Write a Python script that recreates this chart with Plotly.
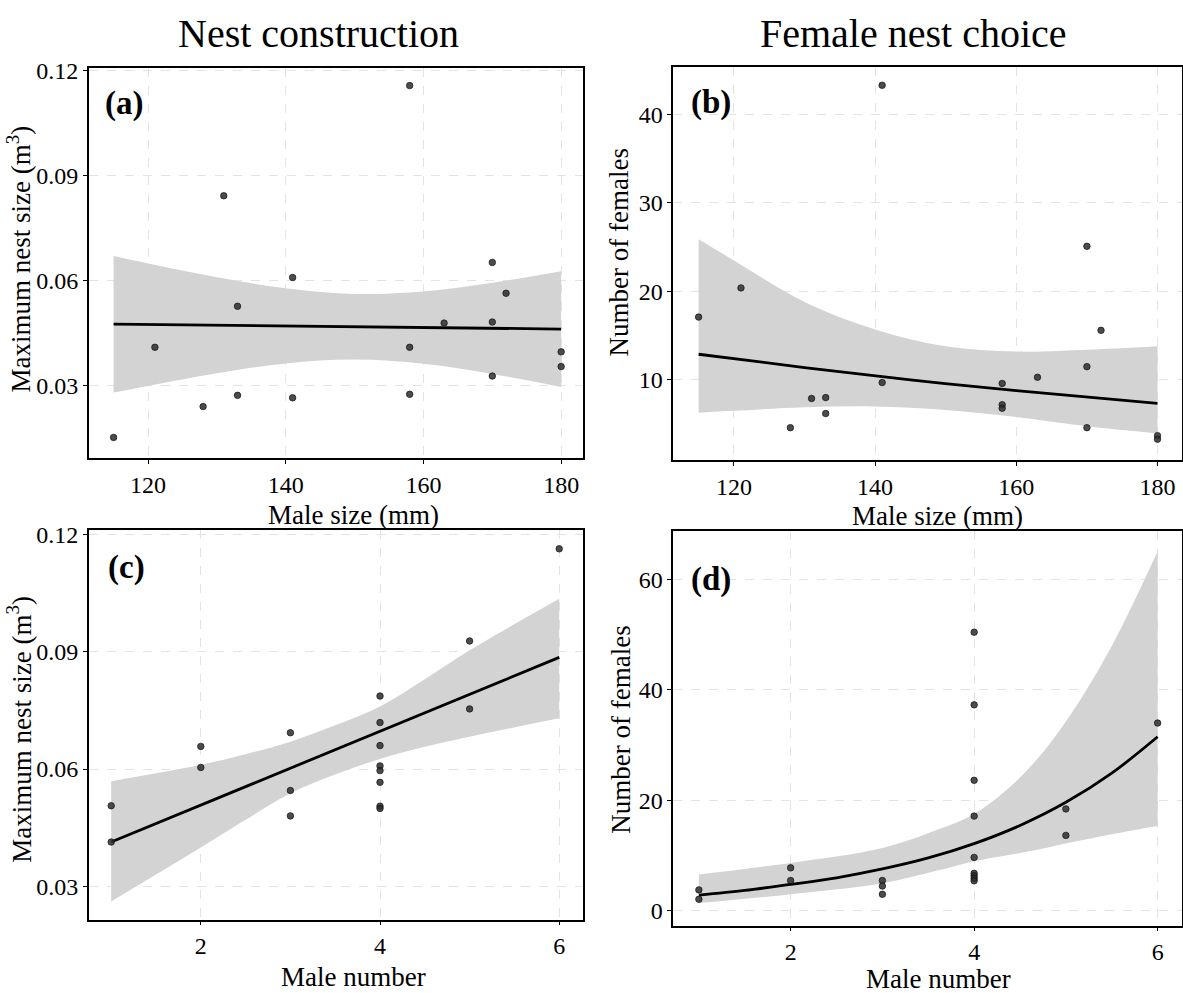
import plotly.graph_objects as go

W, H = 1183, 993

# ---------------- data ----------------
# Panel (a): male size vs maximum nest size
a_x = [115, 121, 128, 131, 133, 133, 141, 141, 158, 158, 158, 163, 170, 170, 170, 172, 180, 180]
a_y = [0.0153, 0.0410, 0.0241, 0.0842, 0.0527, 0.0273, 0.0609, 0.0266, 0.1156, 0.0410,
       0.0276, 0.0479, 0.0652, 0.0482, 0.0328, 0.0564, 0.0397, 0.0355]
a_fit_x = [115, 180]
a_fit_y = [0.0476, 0.0462]
a_band_x = [115, 120, 130, 140, 150, 160, 170, 180]
a_upper = [0.0670, 0.0649, 0.0610, 0.0578, 0.0562, 0.0569, 0.0594, 0.0627]
a_lower = [0.0281, 0.0300, 0.0336, 0.0364, 0.0375, 0.0363, 0.0334, 0.0297]

# Panel (b): male size vs number of females
b_x = [115, 121, 128, 131, 133, 133, 141, 141, 158, 158, 158, 163, 170, 170, 170, 172, 180, 180]
b_y = [17.1, 20.4, 4.6, 7.9, 8.0, 6.2, 43.3, 9.7, 9.6, 7.2, 6.8, 10.3, 25.1, 11.5, 4.6, 15.6, 3.7, 3.3]
b_fit_x = [115, 130, 145, 160, 180]
b_fit_y = [12.9, 11.4, 10.0, 8.8, 7.35]
b_band_x = [115, 120, 130, 140, 150, 160, 170, 180]
b_upper = [25.9, 23.5, 18.8, 15.7, 13.8, 13.2, 13.4, 13.8]
b_lower = [6.3, 6.5, 6.9, 7.0, 6.6, 5.8, 4.75, 3.95]

# Panel (c): male number vs maximum nest size
c_x = [1, 1, 2, 2, 3, 3, 3, 4, 4, 4, 4, 4, 4, 4, 4, 5, 5, 6]
c_y = [0.0506, 0.0413, 0.0658, 0.0604, 0.0693, 0.0545, 0.0480, 0.0787, 0.0719, 0.0660,
       0.0608, 0.0596, 0.0566, 0.0505, 0.0499, 0.0928, 0.0754, 0.1164]
c_fit_x = [1, 6]
c_fit_y = [0.0413, 0.0886]
c_band_x = [1, 2, 2.5, 3, 3.5, 4, 4.5, 5, 6]
c_upper = [0.0569, 0.0611, 0.0638, 0.0670, 0.0712, 0.0760, 0.0830, 0.0904, 0.1036]
c_lower = [0.0261, 0.0399, 0.0470, 0.0538, 0.0586, 0.0626, 0.0657, 0.0683, 0.0730]

# Panel (d): male number vs number of females
d_x = [1, 1, 2, 2, 3, 3, 3, 4, 4, 4, 4, 4, 4, 4, 4, 4, 5, 5, 6]
d_y = [3.7, 2.0, 7.7, 5.4, 5.4, 4.4, 2.9, 50.5, 37.3, 23.6, 17.1, 9.6, 6.7, 6.25, 5.8, 5.35,
       18.4, 13.6, 34.0]
d_fit_x = [1, 1.5, 2, 2.5, 3, 3.5, 4, 4.5, 5, 5.5, 6]
d_fit_y = [2.76, 3.6, 4.7, 5.9, 7.5, 9.5, 12.1, 15.4, 19.6, 24.9, 31.5]
d_band_x = [1, 2, 3, 3.6, 4, 4.33, 4.69, 5.05, 5.5, 6]
d_upper = [6.5, 8.6, 11.3, 14.6, 17.5, 21.5, 27.5, 35.5, 48.0, 65.2]
d_lower = [1.3, 2.9, 4.9, 7.2, 8.9, 9.9, 11.0, 12.3, 13.8, 15.3]

titles = ["Nest construction", "Female nest choice"]
panel_labels = ["(a)", "(b)", "(c)", "(d)"]
x_titles = ["Male size (mm)", "Male size (mm)", "Male number", "Male number"]
y_titles = ["Maximum nest size (m<sup>3</sup>)", "Number of females",
            "Maximum nest size (m<sup>3</sup>)", "Number of females"]
size_ticks = [120, 140, 160, 180]
number_ticks = [2, 4, 6]
nest_ticks = [0.03, 0.06, 0.09, 0.12]
nest_ticktext = ["0.03", "0.06", "0.09", "0.12"]
fem_ticks_b = [10, 20, 30, 40]
fem_ticks_d = [0, 20, 40, 60]

# ---------------- layout helpers ----------------
FONT = "Liberation Serif"
BAND = "#d3d3d3"
PT = "rgba(45,45,45,0.85)"


def px(x):
    return x / W


def py(y):
    return 1 - y / H


panels = [
    dict(data=(a_x, a_y, a_fit_x, a_fit_y, a_band_x, a_upper, a_lower),
         xd=[px(88.8), px(582.5)], yd=[py(452.7), py(58.3)],
         xr=[111.4, 183.1], yr=[0.0094, 0.1207], xt=size_ticks, yt=nest_ticks, ytt=nest_ticktext),
    dict(data=(b_x, b_y, b_fit_x, b_fit_y, b_band_x, b_upper, b_lower),
         xd=[px(673.2), px(1181.5)], yd=[py(455), py(57.3)],
         xr=[111.4, 183.4], yr=[0.9, 45.4], xt=size_ticks, yt=fem_ticks_b,
         ytt=[str(v) for v in fem_ticks_b]),
    dict(data=(c_x, c_y, c_fit_x, c_fit_y, c_band_x, c_upper, c_lower),
         xd=[px(88.8), px(582.5)], yd=[py(919), py(525)],
         xr=[0.75, 6.26], yr=[0.0214, 0.1213], xt=number_ticks, yt=nest_ticks, ytt=nest_ticktext),
    dict(data=(d_x, d_y, d_fit_x, d_fit_y, d_band_x, d_upper, d_lower),
         xd=[px(673.2), px(1181.5)], yd=[py(925), py(526.7)],
         xr=[0.72, 6.26], yr=[-2.8, 68.8], xt=number_ticks, yt=fem_ticks_d,
         ytt=[str(v) for v in fem_ticks_d]),
]

fig = go.Figure()
layout = {}
for i, p in enumerate(panels):
    n = "" if i == 0 else str(i + 1)
    xa, ya = "x" + n, "y" + n
    x, y, fx, fy, bx, bu, bl = p["data"]
    fig.add_trace(go.Scatter(x=bx, y=bl, mode="lines", line=dict(width=0, shape="spline", smoothing=1.0),
                             xaxis=xa, yaxis=ya, showlegend=False, hoverinfo="skip"))
    fig.add_trace(go.Scatter(x=bx, y=bu, mode="lines", line=dict(width=0, shape="spline", smoothing=1.0),
                             fill="tonexty", fillcolor=BAND,
                             xaxis=xa, yaxis=ya, showlegend=False, hoverinfo="skip"))
    fig.add_trace(go.Scatter(x=fx, y=fy, mode="lines",
                             line=dict(color="black", width=2.8, shape="spline", smoothing=1.0),
                             xaxis=xa, yaxis=ya, showlegend=False))
    fig.add_trace(go.Scatter(x=x, y=y, mode="markers",
                             marker=dict(size=6.5, color=PT, line=dict(width=0.8, color="rgba(20,20,20,0.9)")),
                             xaxis=xa, yaxis=ya, showlegend=False))
    common = dict(showline=True, mirror=True, linecolor="black", linewidth=1.5,
                  ticks="outside", ticklen=4, tickwidth=1.2, tickcolor="black",
                  showgrid=True, gridcolor="#e3e3e3", gridwidth=1, griddash="dash",
                  zeroline=False, tickfont=dict(family=FONT, size=24, color="black"))
    layout["xaxis" + n] = dict(domain=p["xd"], range=p["xr"], tickvals=p["xt"],
                               anchor=ya, **common)
    layout["yaxis" + n] = dict(domain=p["yd"], range=p["yr"], tickvals=p["yt"],
                               ticktext=p["ytt"], anchor=xa, **common)

ann = []
for t, (cx, cy) in zip(titles, [(318, 24), (913, 24)]):
    ann.append(dict(text=t, x=px(cx), y=py(cy), xref="paper", yref="paper", showarrow=False,
                    xanchor="center", yanchor="middle", font=dict(family=FONT, size=40, color="black")))
for t, (lx, ly) in zip(panel_labels, [(103, 94), (689, 93), (106, 563), (689, 575)]):
    ann.append(dict(text="<b>" + t + "</b>", x=px(lx), y=py(ly), xref="paper", yref="paper",
                    showarrow=False, xanchor="left", yanchor="middle",
                    font=dict(family=FONT, size=33, color="black")))
for t, (cx, cy) in zip(x_titles, [(353, 510), (937, 511), (353, 977), (938, 979)]):
    ann.append(dict(text=t, x=px(cx), y=py(cy), xref="paper", yref="paper", showarrow=False,
                    xanchor="center", yanchor="middle", font=dict(family=FONT, size=27, color="black")))
for t, (cx, cy) in zip(y_titles, [(19, 252), (619, 245), (19, 727), (621, 727)]):
    ann.append(dict(text=t, x=px(cx), y=py(cy), xref="paper", yref="paper", showarrow=False,
                    textangle=-90, xanchor="center", yanchor="middle",
                    font=dict(family=FONT, size=27, color="black")))

fig.update_layout(width=W, height=H, margin=dict(l=0, r=0, t=0, b=0),
                  paper_bgcolor="white", plot_bgcolor="white",
                  annotations=ann, **layout)

fig.write_html("out.html")
